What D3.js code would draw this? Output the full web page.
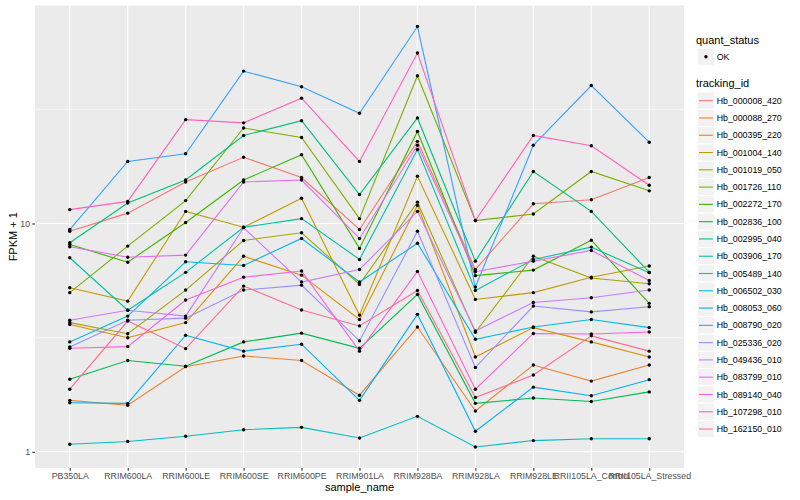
<!DOCTYPE html>
<html>
<head>
<meta charset="utf-8">
<script src="https://cdn.jsdelivr.net/npm/d3@7"></script>
<style>
  body { margin: 0; background: #fff; }
  text { font-family: "Liberation Sans", Arial, Helvetica, sans-serif; }
</style>
</head>
<body>
<svg id="chart" width="800" height="500"></svg>
<script>
const samples = ["PB350LA", "RRIM600LA", "RRIM600LE", "RRIM600SE", "RRIM600PE",
  "RRIM901LA", "RRIM928BA", "RRIM928LA", "RRIM928LE", "RRII105LA_Control", "RRII105LA_Stressed"];

const trackingIds = ["Hb_000008_420", "Hb_000088_270", "Hb_000395_220", "Hb_001004_140",
  "Hb_001019_050", "Hb_001726_110", "Hb_002272_170", "Hb_002836_100", "Hb_002995_040",
  "Hb_003906_170", "Hb_005489_140", "Hb_006502_030", "Hb_008053_060", "Hb_008790_020",
  "Hb_025336_020", "Hb_049436_010", "Hb_083799_010", "Hb_089140_040", "Hb_107298_010",
  "Hb_162150_010"];

// ggplot default hue palette for 20 levels
const seriesColors = ["#F8766D", "#EA8331", "#D89000", "#C09B00", "#A3A500", "#7CAE00",
  "#39B600", "#00BB4E", "#00BF7D", "#00C1A3", "#00BFC4", "#00BAE0", "#00B0F6", "#35A2FF",
  "#9590FF", "#C77CFF", "#E76BF3", "#FA62DB", "#FF62BC", "#FF6C91"];

// FPKM + 1 per sample
const hb_000008_420 = [9.25, 11.1, 15.2, 19.5, 15.9, 9.41, 22.9, 6.29, 12.2, 12.7, 15.9];
const hb_000088_270 = [1.68, 1.60, 2.36, 2.63, 2.51, 1.77, 3.52, 1.51, 2.40, 2.04, 2.40];
const hb_000395_220 = [3.61, 3.16, 3.68, 7.19, 5.94, 3.80, 12.0, 2.60, 3.50, 3.03, 2.60];
const hb_001004_140 = [5.23, 4.57, 11.3, 9.63, 12.9, 3.97, 16.1, 4.65, 4.98, 5.82, 6.51];
const hb_001019_050 = [3.68, 3.29, 5.11, 8.43, 9.11, 5.41, 12.4, 3.34, 7.19, 5.77, 5.45];
const hb_001726_110 = [4.98, 7.96, 12.6, 26.2, 23.8, 10.5, 44.4, 10.3, 11.0, 16.9, 13.9];
const hb_002272_170 = [8.09, 6.77, 10.1, 15.5, 20.0, 7.78, 25.3, 5.91, 6.25, 8.45, 4.47];
const hb_002836_100 = [2.08, 2.51, 2.37, 3.03, 3.31, 2.84, 4.89, 1.63, 1.72, 1.66, 1.83];
const hb_002995_040 = [8.23, 12.3, 15.5, 24.3, 28.2, 13.4, 29.0, 6.84, 16.9, 11.3, 6.12];
const hb_003906_170 = [7.08, 4.17, 6.11, 9.63, 10.5, 6.96, 21.1, 5.09, 6.96, 7.88, 6.09];
const hb_005489_140 = [1.08, 1.11, 1.17, 1.25, 1.28, 1.15, 1.43, 1.05, 1.12, 1.14, 1.14];
const hb_006502_030 = [3.03, 3.93, 6.80, 6.55, 8.60, 5.54, 8.20, 3.11, 3.52, 3.80, 3.50];
const hb_008053_060 = [1.64, 1.63, 3.24, 2.76, 2.96, 1.68, 4.00, 1.23, 1.92, 1.76, 2.07];
const hb_008790_020 = [9.41, 18.7, 20.2, 46.5, 39.7, 30.4, 72.9, 5.27, 22.0, 40.2, 22.7];
const hb_025336_020 = [2.88, 3.77, 3.85, 5.11, 5.37, 3.06, 9.25, 2.34, 4.35, 4.10, 4.32];
const hb_049436_010 = [3.77, 4.17, 3.93, 9.58, 5.54, 6.29, 11.3, 3.38, 4.51, 4.73, 5.11];
const hb_083799_010 = [7.91, 7.12, 7.27, 15.2, 15.5, 8.60, 22.0, 6.15, 6.84, 7.62, 5.63];
const hb_089140_040 = [2.84, 2.89, 4.62, 5.82, 6.19, 2.76, 6.17, 1.88, 3.30, 3.28, 3.35];
const hb_107298_010 = [11.5, 12.5, 28.5, 27.6, 35.4, 18.7, 55.8, 10.3, 24.3, 21.9, 14.7];
const hb_162150_010 = [1.88, 3.74, 2.83, 5.32, 4.18, 3.56, 5.09, 1.73, 2.17, 3.22, 2.76];

const seriesValues = [hb_000008_420, hb_000088_270, hb_000395_220, hb_001004_140,
  hb_001019_050, hb_001726_110, hb_002272_170, hb_002836_100, hb_002995_040,
  hb_003906_170, hb_005489_140, hb_006502_030, hb_008053_060, hb_008790_020,
  hb_025336_020, hb_049436_010, hb_083799_010, hb_089140_040, hb_107298_010,
  hb_162150_010];

const yTicks = [1, 10];
const yMinor = [Math.pow(10, 0.5), Math.pow(10, 1.5)];

// panel box, roughly what ggplot gives at this size
const panel = {left: 35, right: 684, top: 5.5, bottom: 468};
const R = 1.7; // point radius
const svg = d3.select('#chart');

const series = trackingIds.map((id, i) => ({
  id: id,
  color: seriesColors[i],
  pts: samples.map((s, j) => ({sample: s, v: seriesValues[i][j]}))
}));

const x = d3.scalePoint()
  .domain(samples)
  .range([panel.left, panel.right])
  .padding(0.6);

// log range with ggplot's 5% expansion
let lext = d3.extent(seriesValues.flat()).map(Math.log10);
let lpad = (lext[1] - lext[0]) * 0.05;
const y = d3.scaleLog()
  .domain([Math.pow(10, lext[0] - lpad), Math.pow(10, lext[1] + lpad)])
  .range([panel.bottom, panel.top]);

// panel background + grid
svg.append('rect')
  .attr('x', panel.left).attr('y', panel.top)
  .attr('width', panel.right - panel.left)
  .attr('height', panel.bottom - panel.top)
  .attr('fill', '#EBEBEB');

let grid = svg.append('g');
grid.selectAll('.minor').data(yMinor).enter().append('line')
  .attr('x1', panel.left).attr('x2', panel.right)
  .attr('y1', d => y(d)).attr('y2', d => y(d))
  .attr('stroke', '#fff').attr('stroke-width', 0.55);
grid.selectAll('.hmajor').data(yTicks).enter().append('line')
  .attr('x1', panel.left).attr('x2', panel.right)
  .attr('y1', d => y(d)).attr('y2', d => y(d))
  .attr('stroke', '#fff').attr('stroke-width', 1.1);
grid.selectAll('.vmajor').data(samples).enter().append('line')
  .attr('x1', d => x(d)).attr('x2', d => x(d))
  .attr('y1', panel.top).attr('y2', panel.bottom)
  .attr('stroke', '#fff').attr('stroke-width', 1.1);

// lines, then points on top
const line = d3.line()
  .x(d => x(d.sample))
  .y(d => y(d.v));

svg.append('g').selectAll('path').data(series).enter().append('path')
  .attr('d', d => line(d.pts))
  .attr('fill', 'none')
  .attr('stroke', d => d.color)
  .attr('stroke-width', 1.1);

svg.append('g').selectAll('circle')
  .data(series.flatMap(s => s.pts))
  .enter().append('circle')
  .attr('cx', d => x(d.sample))
  .attr('cy', d => y(d.v))
  .attr('r', R)
  .attr('fill', '#000');

// axes
let yAxis = svg.append('g')
  .attr('transform', `translate(${panel.left},0)`)
  .call(d3.axisLeft(y).tickValues(yTicks).tickFormat(d3.format('d'))
    .tickSize(2.75).tickPadding(2.2));
let xAxis = svg.append('g')
  .attr('transform', `translate(0,${panel.bottom})`)
  .call(d3.axisBottom(x).tickSize(2.75).tickPadding(2.2));

[yAxis, xAxis].forEach(ax => {
  ax.select('.domain').remove();
  ax.selectAll('.tick line').attr('stroke', '#333333').attr('stroke-width', 1.1);
  ax.selectAll('.tick text')
    .attr('fill', '#4D4D4D')
    .style('font-size', '8.8px')
    .style('font-family', '"Liberation Sans", Arial, sans-serif');
});

svg.append('text')
  .attr('x', (panel.left + panel.right) / 2).attr('y', 491)
  .attr('text-anchor', 'middle')
  .style('font-size', '11px')
  .text('sample_name');

svg.append('text')
  .attr('transform', `translate(17,${(panel.top + panel.bottom) / 2}) rotate(-90)`)
  .attr('text-anchor', 'middle')
  .style('font-size', '11px')
  .text('FPKM + 1');

// legends
const legX = 696, keyX = 697.3, keyS = 17.28;
let leg = svg.append('g');

leg.append('text').attr('x', legX).attr('y', 43.5)
  .style('font-size', '11px').text('quant_status');
leg.append('rect')
  .attr('x', keyX).attr('y', 56.7 - keyS / 2)
  .attr('width', keyS).attr('height', keyS)
  .attr('fill', '#F2F2F2').attr('stroke', '#fff');
leg.append('circle')
  .attr('cx', keyX + keyS / 2).attr('cy', 56.7).attr('r', R).attr('fill', '#000');
leg.append('text').attr('x', 716.7).attr('y', 56.7 + 3.1)
  .style('font-size', '8.8px').text('OK');

leg.append('text').attr('x', legX).attr('y', 86.5)
  .style('font-size', '11px').text('tracking_id');

let keys = leg.selectAll('.key').data(series).enter().append('g')
  .attr('transform', (d, i) => `translate(0,${100.7 + i * keyS})`);
keys.append('rect')
  .attr('x', keyX).attr('y', -keyS / 2)
  .attr('width', keyS).attr('height', keyS)
  .attr('fill', '#F2F2F2').attr('stroke', '#fff');
keys.append('line')
  .attr('x1', keyX + 1.7).attr('x2', keyX + keyS - 1.7)
  .attr('y1', 0).attr('y2', 0)
  .attr('stroke', d => d.color).attr('stroke-width', 1.1);
keys.append('text')
  .attr('x', 716.7).attr('y', 3.1)
  .style('font-size', '8.8px')
  .text(d => d.id);
</script>
</body>
</html>
